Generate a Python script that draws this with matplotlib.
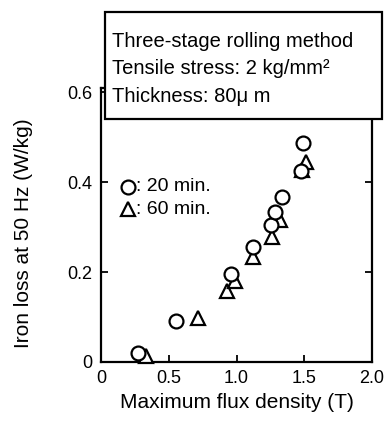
import matplotlib.pyplot as plt
from matplotlib.patches import Rectangle

plt.rcParams['font.family'] = ['Liberation Sans', 'DejaVu Sans']

# 20 min annealing (circles)
b20 = [0.27, 0.556, 0.963, 1.12, 1.254, 1.284, 1.333, 1.476, 1.494]
w20 = [0.019, 0.092, 0.197, 0.256, 0.304, 0.334, 0.367, 0.425, 0.488]
# 60 min annealing (triangles)
b60 = [0.333, 0.716, 0.933, 0.99, 1.12, 1.26, 1.32, 1.48, 1.51]
w60 = [0.013, 0.097, 0.158, 0.18, 0.234, 0.278, 0.316, 0.427, 0.445]

xticks = [0, 0.5, 1.0, 1.5, 2.0]
xlabels = ['0', '0.5', '1.0', '1.5', '2.0']
yticks = [0, 0.2, 0.4, 0.6]
ylabels = ['0', '0.2', '0.4', '0.6']

W, H = 385, 421
fig = plt.figure(figsize=(W / 100, H / 100), dpi=100)
ax = fig.add_axes([101 / W, 1 - 362 / H, 271 / W, 274 / H])

mk = dict(linestyle='none', markersize=10, markerfacecolor='white',
          markeredgecolor='black', markeredgewidth=1.6, clip_on=False)
ax.plot(b60, w60, marker='^', zorder=3, **mk)
ax.plot(b20, w20, marker='o', zorder=4, **mk)

ax.set_xlim(0, 2.0)
ax.set_ylim(0, 0.61)
ax.set_xticks(xticks)
ax.set_xticklabels(xlabels)
ax.set_yticks(yticks)
ax.set_yticklabels(ylabels)
ax.tick_params(direction='in', length=5, width=1.3, labelsize=13, right=True, top=False, pad=6)
for s in ax.spines.values():
    s.set_linewidth(1.6)

ax.set_xlabel('Maximum flux density (T)', fontsize=15, labelpad=4)
ax.set_ylabel('Iron loss at 50 Hz (W/kg)', fontsize=15)
ax.yaxis.set_label_coords(-0.25, 0.47)

# legend: marker symbol followed by text
ax.plot([0.2], [0.39], marker='o', **mk)
ax.plot([0.2], [0.34], marker='^', **mk)
ax.text(0.255, 0.39, ': 20 min.', fontsize=14, va='center')
ax.text(0.255, 0.34, ': 60 min.', fontsize=14, va='center')

# condition box on top of the axes
fig.patches.append(Rectangle((105 / W, 1 - 119 / H), 277 / W, 107 / H, transform=fig.transFigure,
                             facecolor='white', edgecolor='black', linewidth=1.6, zorder=10))
box_lines = ['Three-stage rolling method', 'Tensile stress: 2 kg/mm\u00b2', 'Thickness: 80\u03bc m']
for i, line in enumerate(box_lines):
    fig.text(112 / W, 1 - (47 + 27.5 * i) / H, line, fontsize=14.5, zorder=11)

fig.savefig('out.png', dpi=100)
